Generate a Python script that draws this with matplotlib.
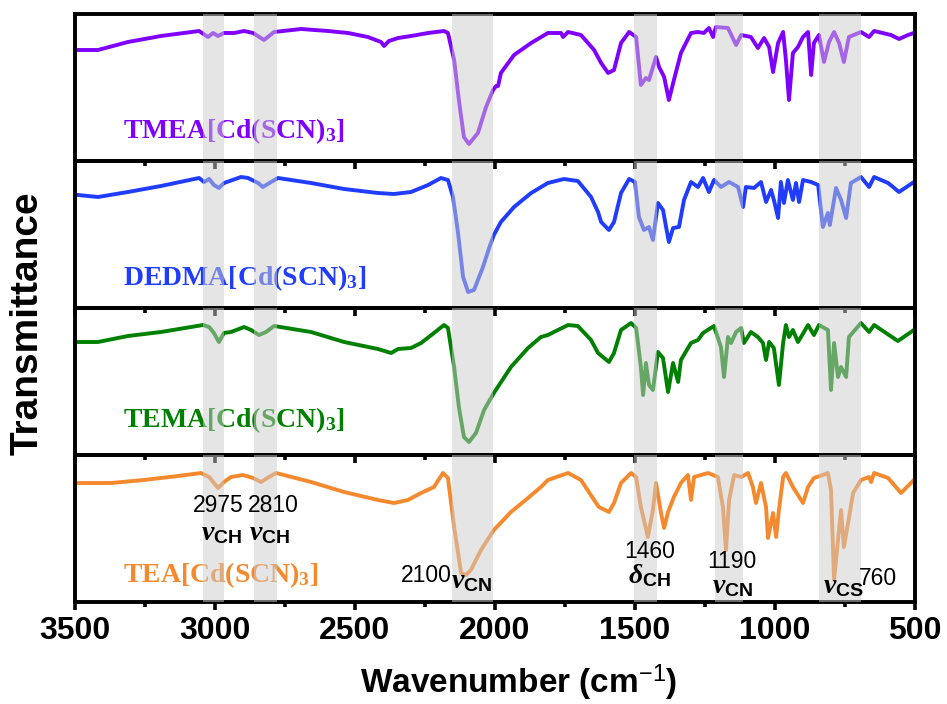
"""FTIR spectra of four Cd(SCN)3 hybrids, stacked panels with shaded band regions."""

import matplotlib

matplotlib.use("Agg")
import matplotlib.pyplot as plt
from matplotlib.ticker import MultipleLocator

plt.rcParams["font.family"] = ["Liberation Sans", "DejaVu Sans"]
plt.rcParams["mathtext.fontset"] = "custom"
plt.rcParams["mathtext.rm"] = "Liberation Sans"
plt.rcParams["mathtext.it"] = "Liberation Serif:italic:bold"
plt.rcParams["mathtext.bf"] = "Liberation Serif:bold"
plt.rcParams["mathtext.sf"] = "Liberation Sans:bold"

# ---- data (wavenumber in cm-1, transmittance in arbitrary units, 0-147 per panel) ----
tmea_wn = [3500, 3418, 3311, 3193, 3057, 3025, 3007, 2989, 2968, 2932, 2896, 2864, 2825,
           2789, 2693, 2596, 2525, 2454, 2407, 2396, 2379, 2346, 2300, 2239, 2182, 2168,
           2146, 2129, 2111, 2093, 2061, 2032, 2007, 1996, 1989, 1979, 1932, 1871, 1811,
           1764, 1757, 1739, 1693, 1646, 1621, 1596, 1575, 1550, 1521, 1496, 1479, 1461,
           1450, 1425, 1414, 1396, 1379, 1361, 1336, 1300, 1275, 1254, 1236, 1221, 1211,
           1168, 1139, 1121, 1086, 1061, 1039, 1021, 1007, 989, 971, 961, 950, 936, 918,
           900, 882, 871, 861, 843, 825, 807, 789, 771, 754, 736, 693, 664, 646, 586, 557,
           525, 504]
tmea_t = [111, 111, 119, 125, 130, 124, 128, 125, 128, 128, 130, 128, 121,
          129, 132, 130, 128, 124, 119, 115, 120, 123, 125, 128, 130, 128,
          101, 61, 24, 17, 28, 54, 71, 75, 75, 88, 106, 118, 128,
          128, 124, 129, 126, 111, 98, 88, 91, 118, 129, 124, 76, 83,
          81, 104, 94, 84, 61, 81, 108, 128, 129, 128, 133, 124, 134,
          133, 116, 126, 124, 113, 123, 114, 89, 118, 129, 101, 61, 108, 114,
          124, 129, 86, 118, 126, 99, 119, 129, 118, 99, 124, 129, 124, 130, 126, 122,
          126, 128]

dedma_wn = [3489, 3418, 3311, 3193, 3057, 3039, 3021, 3004, 2986, 2968, 2907, 2882, 2846,
            2829, 2800, 2775, 2657, 2539, 2418, 2361, 2300, 2239, 2193, 2168, 2150, 2132,
            2114, 2096, 2075, 2043, 2021, 2004, 1979, 1932, 1871, 1811, 1754, 1704, 1657,
            1632, 1621, 1593, 1575, 1550, 1521, 1500, 1486, 1468, 1450, 1436, 1418, 1400,
            1389, 1379, 1364, 1343, 1325, 1300, 1275, 1257, 1236, 1218, 1193, 1164, 1132,
            1114, 1104, 1075, 1050, 1032, 1014, 1004, 989, 979, 968, 954, 936, 925, 914,
            900, 871, 846, 829, 811, 804, 782, 764, 746, 729, 693, 664, 646, 596, 557, 504]
dedma_t = [113, 111, 116, 122, 130, 126, 129, 123, 120, 125, 131, 130, 125,
           121, 126, 130, 125, 119, 115, 114, 116, 123, 130, 128, 111, 75,
           31, 16, 18, 41, 60, 73, 86, 101, 115, 125, 129, 127, 111,
           96, 86, 78, 86, 115, 129, 126, 91, 78, 81, 68, 105, 98,
           81, 66, 80, 81, 108, 126, 121, 130, 116, 128, 121, 126, 121,
           101, 121, 120, 126, 106, 118, 108, 90, 126, 105, 128, 108, 125, 106,
           128, 126, 123, 81, 95, 83, 120, 108, 90, 125, 131, 121, 131, 125, 116, 126]

tema_wn = [3489, 3418, 3311, 3193, 3043, 3021, 3004, 2986, 2968, 2943, 2896, 2871, 2843,
           2818, 2789, 2657, 2539, 2418, 2371, 2346, 2300, 2264, 2218, 2182, 2168, 2146,
           2129, 2111, 2093, 2068, 2039, 2004, 1943, 1882, 1836, 1811, 1739, 1704, 1657,
           1632, 1593, 1575, 1550, 1514, 1496, 1479, 1471, 1461, 1450, 1436, 1418, 1400,
           1382, 1364, 1346, 1336, 1300, 1275, 1257, 1218, 1193, 1182, 1168, 1157, 1139,
           1121, 1111, 1086, 1061, 1043, 1032, 1021, 1004, 986, 971, 961, 950, 936, 918,
           907, 882, 861, 843, 811, 800, 789, 775, 764, 746, 736, 693, 664, 646, 561, 504]
tema_t = [113, 113, 119, 123, 130, 128, 122, 113, 122, 123, 128, 125, 120,
          123, 129, 123, 113, 106, 102, 106, 107, 112, 122, 130, 127, 88,
          48, 18, 13, 22, 45, 62, 88, 107, 118, 120, 130, 129, 115,
          102, 93, 102, 125, 132, 127, 88, 60, 92, 70, 65, 103, 97,
          63, 92, 73, 95, 112, 115, 122, 129, 108, 78, 118, 112, 123,
          127, 112, 123, 118, 112, 95, 113, 107, 70, 112, 130, 118, 125, 113,
          118, 130, 120, 130, 125, 65, 112, 78, 88, 78, 118, 132, 123, 130, 114, 125]

tea_wn = [3489, 3371, 3254, 3132, 3050, 3021, 2989, 2968, 2943, 2900, 2864, 2836, 2807,
          2782, 2657, 2539, 2418, 2361, 2311, 2264, 2218, 2186, 2168, 2146, 2121, 2104,
          2086, 2050, 2004, 1943, 1882, 1836, 1811, 1739, 1693, 1646, 1629, 1593, 1575,
          1550, 1514, 1496, 1479, 1454, 1436, 1425, 1407, 1396, 1382, 1361, 1336, 1311,
          1300, 1289, 1239, 1204, 1186, 1175, 1164, 1146, 1121, 1096, 1079, 1068, 1050,
          1032, 1025, 1007, 996, 986, 971, 961, 936, 918, 900, 882, 861, 829, 811, 800,
          789, 775, 764, 754, 739, 721, 693, 664, 657, 646, 596, 550, 504]
tea_t = [119, 119, 122, 126, 129, 125, 114, 120, 125, 127, 124, 120, 125,
         129, 120, 110, 102, 99, 102, 109, 115, 129, 124, 75, 29, 27,
         32, 52, 72, 90, 104, 115, 122, 129, 122, 102, 95, 90, 99,
         119, 129, 125, 95, 65, 92, 119, 89, 74, 90, 105, 119, 127,
         102, 125, 129, 125, 95, 52, 102, 127, 125, 129, 115, 99, 119,
         95, 64, 89, 65, 92, 125, 129, 115, 107, 99, 115, 124, 127, 129, 112,
         22, 62, 92, 55, 79, 109, 122, 125, 120, 129, 124, 109, 122]

series = [
    ("TMEA", tmea_wn, tmea_t, "#7F00FF", 23),
    ("DEDMA", dedma_wn, dedma_t, "#1F3CFF", 23),
    ("TEMA", tema_wn, tema_t, "#008000", 28),
    ("TEA", tea_wn, tea_t, "#F5892E", 20),
]

# shaded assignment regions (high, low wavenumber)
bands = [(3042, 2967), (2859, 2780), (2154, 2007), (1502, 1420), (1216, 1116), (844, 693)]

fig = plt.figure(figsize=(9.47, 7.04), dpi=100)
axes = fig.subplots(4, 1, sharex=True, gridspec_kw=dict(hspace=0))
fig.subplots_adjust(left=75 / 947, right=915 / 947, top=1 - 14 / 704, bottom=1 - 602 / 704)

for ax, (name, wn, t, color, label_y) in zip(axes, series):
    ax.patch.set_visible(False)
    ax.plot(wn, t, color=color, lw=2.8, solid_joinstyle="round", zorder=2)
    for hi, lo in bands:
        ax.axvspan(hi, lo, color="#cccccc", alpha=0.5, lw=0, zorder=4)
    ax.text(3329, label_y, r"$\mathbf{" + name + r"[Cd(SCN)}_{\mathbf{3}}\mathbf{]}$",
            color=color, fontsize=20, ha="left", va="baseline", zorder=2.2)
    ax.set_xlim(3500, 500)
    ax.set_ylim(0, 147)
    ax.set_yticks([])
    ax.xaxis.set_major_locator(MultipleLocator(500))
    ax.xaxis.set_minor_locator(MultipleLocator(250))
    ax.tick_params(axis="x", which="major", direction="out", length=6, width=2.6,
                   labelsize=23, pad=4)
    ax.tick_params(axis="x", which="minor", direction="out", length=3.5, width=2.6)
    for spine in ax.spines.values():
        spine.set_linewidth(2.8)

for ax in axes[:-1]:
    ax.tick_params(axis="x", which="both", labelbottom=False)
for lbl in axes[-1].get_xticklabels():
    lbl.set_fontweight("bold")

# peak annotations in the bottom panel (drawn above the shaded bands)
ax = axes[-1]
num_kw = dict(fontsize=16.5, ha="left", va="baseline", color="black", zorder=5)
sym_kw = dict(fontsize=20, ha="left", va="baseline", color="black", zorder=5)
ax.text(3079, 90, "2975", **num_kw)
ax.text(2882, 90, "2810", **num_kw)
ax.text(3050, 62, r"$\nu_{\mathsf{CH}}$", **sym_kw)
ax.text(2879, 62, r"$\nu_{\mathsf{CH}}$", **sym_kw)
ax.text(2336, 20, "2100", **num_kw)
ax.text(2157, 14, r"$\nu_{\mathsf{CN}}$", **sym_kw)
ax.text(1539, 44, "1460", **num_kw)
ax.text(1525, 19, r"$\delta_{\mathsf{CH}}$", **sym_kw)
ax.text(1243, 34, "1190", **num_kw)
ax.text(1225, 9, r"$\nu_{\mathsf{CN}}$", **sym_kw)
ax.text(829, 9, r"$\nu_{\mathsf{CS}}$", **sym_kw)
ax.text(700, 17, "760", **num_kw)

fig.text(28 / 947, 1 - 323 / 704, "Transmittance", rotation=90, fontsize=28,
         fontweight="bold", ha="center", va="center")
fig.text(519 / 947, 1 - 683 / 704, r"Wavenumber (cm$^{-1}$)", fontsize=24,
         fontweight="bold", ha="center", va="center")

fig.savefig("out.png", dpi=100)
